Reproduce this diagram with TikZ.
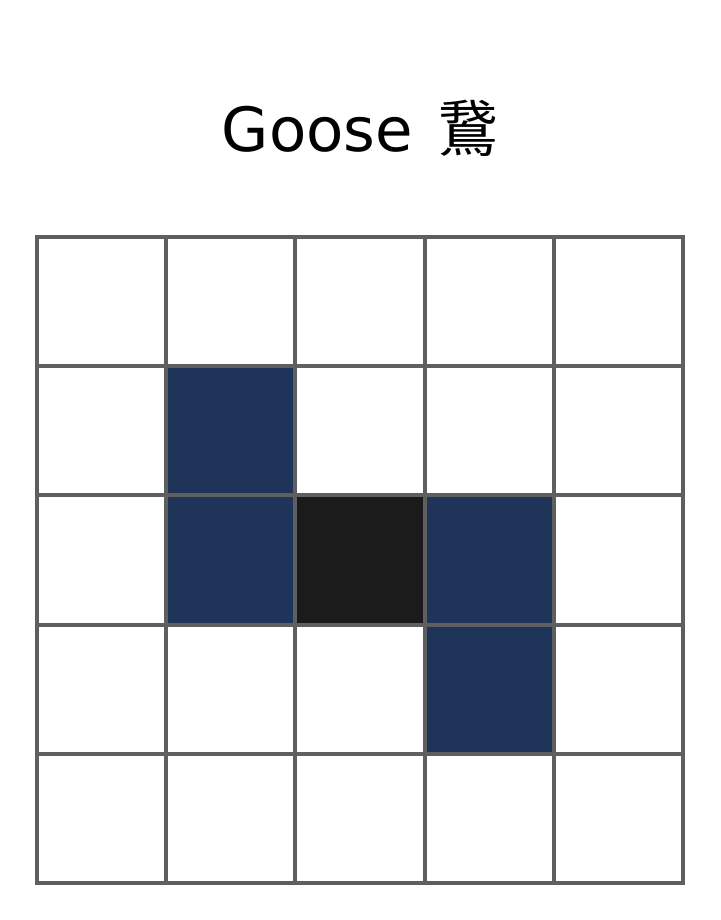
\documentclass[tikz,border=0pt]{standalone}
\usepackage{fontspec}
\setmainfont{DejaVu Sans}
\newfontfamily\cjk{Noto Sans CJK JP}
\usepackage{tikz}
\definecolor{gridgray}{HTML}{5F5F5F}
\definecolor{gooseblue}{HTML}{1E3559}
\definecolor{gooseblack}{HTML}{1B1B1B}
\tikzset{
  cell/.style={draw=gridgray, line width=4pt, minimum size=129.2pt, inner sep=0pt, outer sep=0pt},
  body/.style={cell, fill=gooseblue},
  head/.style={cell, fill=gooseblack},
  title/.style={font=\fontsize{61}{63}\selectfont, anchor=center}
}
\begin{document}
\begin{tikzpicture}[x=1pt,y=-1pt]
\useasboundingbox (0,0) rectangle (720,920);
\node[title] (ttl) at (360,128) {Goose\hspace{0.08em} {\cjk 鵞}};
% empty grid
\foreach \r in {0,...,4}
  \foreach \c in {0,...,4}
    \node[cell] (c\r\c) at ({37+64.6+129.2*\c},{237+64.6+129.2*\r}) {};
% goose cells
\node[body] at (c11) {};
\node[body] at (c21) {};
\node[head] at (c22) {};
\node[body] at (c23) {};
\node[body] at (c33) {};
\end{tikzpicture}
\end{document}
